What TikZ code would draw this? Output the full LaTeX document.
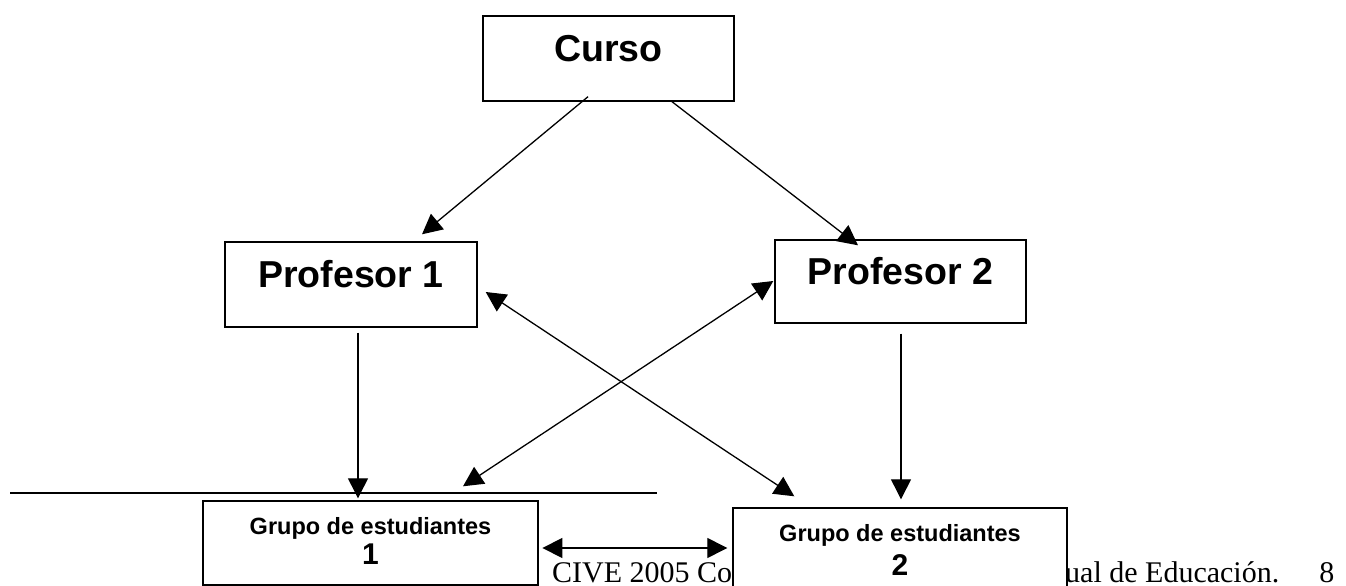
\documentclass[tikz,border=0pt]{standalone}
\usepackage{fontspec}
\setmainfont{Liberation Serif}
\newfontfamily\arial{Liberation Sans}
\usetikzlibrary{arrows.meta}

\tikzset{
	caja/.style={draw, fill=white, line width=1.4pt, inner sep=0pt},
	titulo/.style={caja, font=\arial\bfseries\fontsize{37.5}{40}\selectfont, text height=26.5pt, text depth=20pt},
	grupo/.style={caja, align=center, minimum width=335pt},
	pie/.style={anchor=base west, inner sep=0pt, font=\fontsize{30}{32}\selectfont},
	flecha/.style={line width=1.3pt, -{Triangle[length=20pt,width=20pt]}},
	dflecha/.style={line width=1.3pt, {Triangle[length=20pt,width=20pt]}-{Triangle[length=20pt,width=20pt]}}
}

\begin{document}
\begin{tikzpicture}[x=1pt, y=1pt]
	\clip (0, 0) rectangle (1346, 586);
	
	% pie de pagina, queda debajo de las cajas
	\node[pie] (pie1) at (552, 3) {CIVE 2005 Co};
	\node[pie] (pie2) at (1065, 3) {ual de Educación. \quad8};
	
	\node[titulo, minimum width=251pt, minimum height=85pt] (curso) at (608.5, 527.5) {Curso};
	\node[titulo, minimum width=252pt, minimum height=85pt] (p1) at (351, 301.5) {Profesor 1};
	\node[titulo, minimum width=251pt, minimum height=83pt] (p2) at (900.5, 304.5) {Profesor 2};
	
	\node[grupo, minimum height=84pt, font=\arial\bfseries\fontsize{23.5}{30}\selectfont, text height=50pt, text depth=6pt] (g1) at (370.5, 43) {Grupo de estudiantes\\{\fontsize{30}{30}\selectfont 1}};
	\node[grupo, minimum width=334pt, minimum height=92pt, font=\arial\bfseries\fontsize{23.5}{34}\selectfont, text height=50pt, text depth=7pt] (g2) at (900, 32) {Grupo de estudiantes\\{\fontsize{30}{34}\selectfont 2}};
	
	\draw[line width=1.7pt] (10, 93) -- (657, 93);
	
	\draw[flecha] ([shift={(-20.5,5)}]curso.south) -- ([shift={(71,7)}]p1.north);
	\draw[flecha] ([shift={(63.5,0)}]curso.south) -- ([shift={(-42.5,-6)}]p2.north);
	\draw[flecha] ([shift={(7,-5)}]p1.south) -- ([shift={(-12.5,2)}]g1.north);
	\draw[flecha] ([shift={(0.5,-10)}]p2.south) -- ([shift={(1,8)}]g2.north);
	
	\draw[dflecha] ([shift={(8,-7.5)}]p1.east) -- ([shift={(62,11)}]g2.north west);
	\draw[dflecha] ([shift={(-1,0.5)}]p2.west) -- ([shift={(92.5,14)}]g1.north);
	\draw[dflecha] ([shift={(3.7,-5)}]g1.east) -- ([shift={(-5,6)}]g2.west);
\end{tikzpicture}
\end{document}
